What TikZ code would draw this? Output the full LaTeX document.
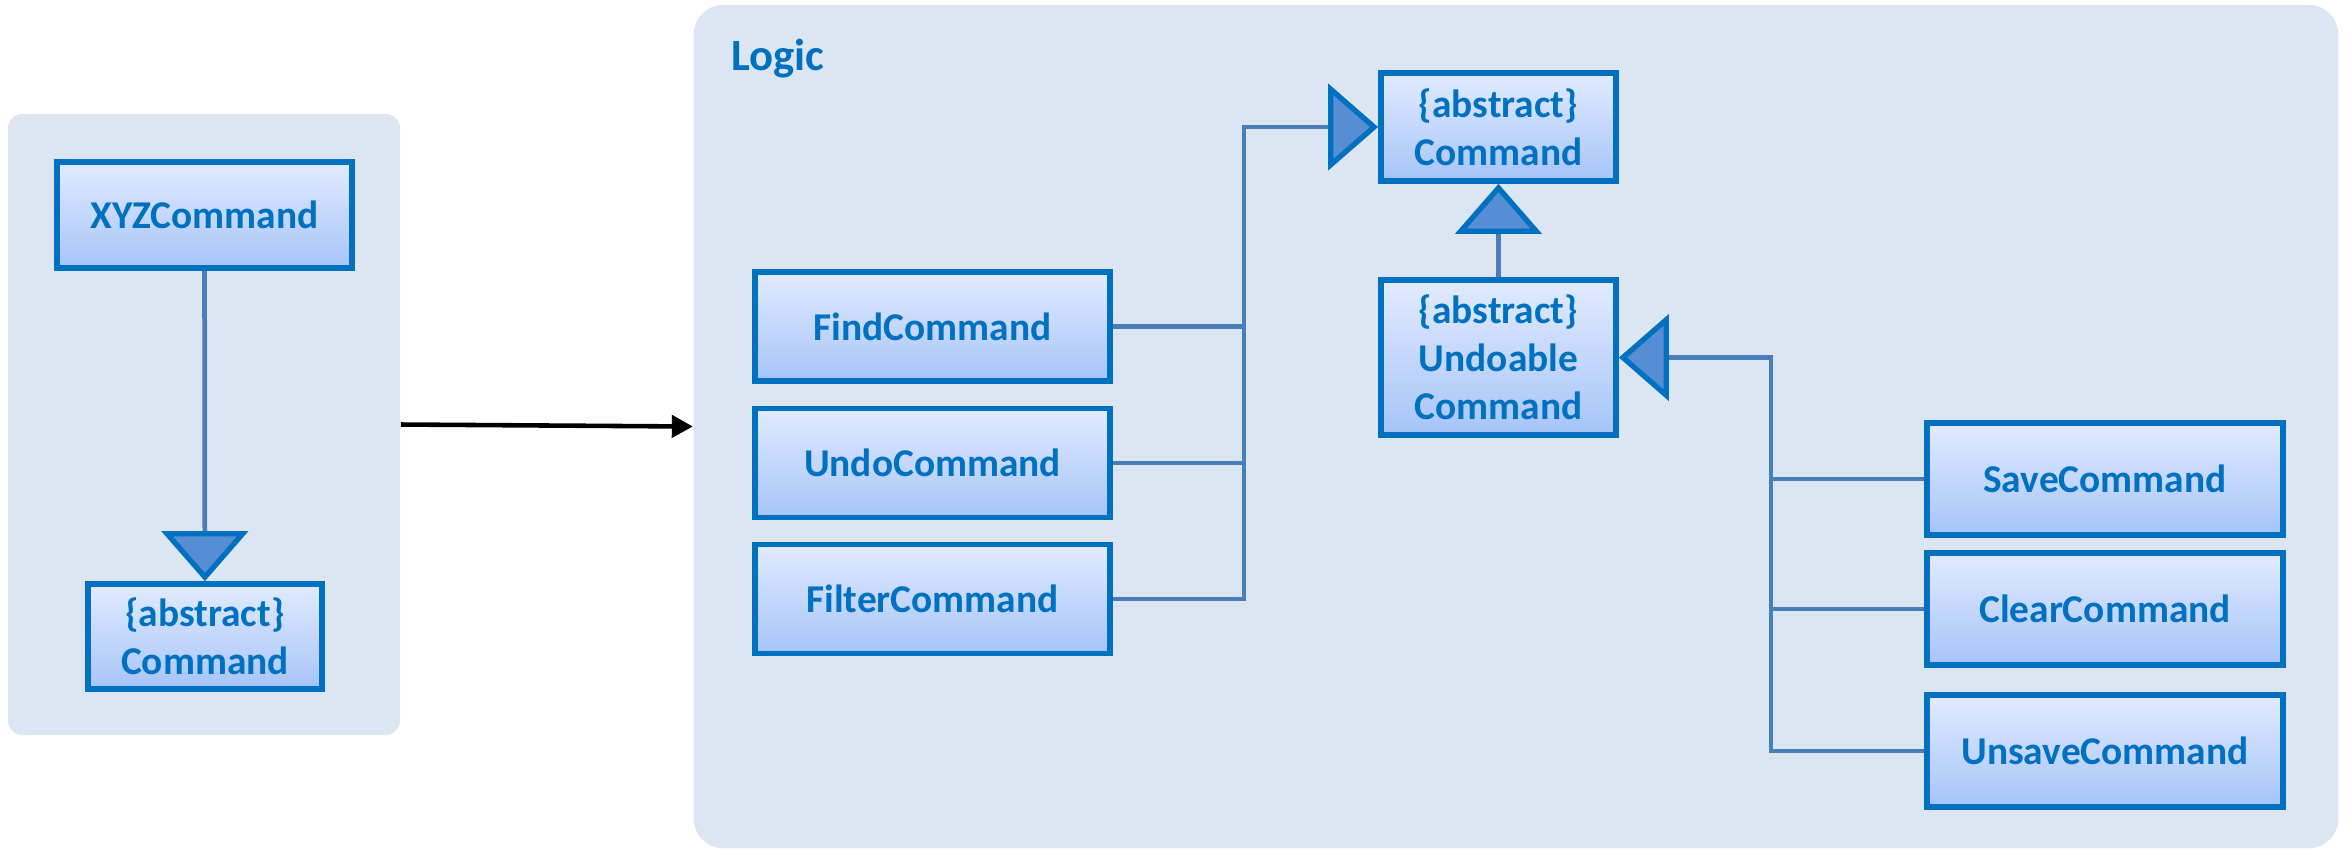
\documentclass[tikz,border=0pt]{standalone}
\usepackage{fontspec}
\setmainfont{Carlito}
\usetikzlibrary{arrows.meta}
\definecolor{panefill}{HTML}{DCE6F2}
\definecolor{boxblue}{HTML}{0070C0}
\definecolor{boxtop}{HTML}{E1EBFF}
\definecolor{boxbot}{HTML}{A6C4F8}
\definecolor{trifill}{HTML}{558ED5}
\definecolor{linkblue}{HTML}{4A7EBB}
\begin{document}
\begin{tikzpicture}[x=.01cm, y=-.01cm,
	pane/.style={fill=panefill, rounded corners=.15cm, inner sep=0pt},
	cls/.style={draw=boxblue, line width=1.6pt, top color=boxtop, bottom color=boxbot, text=boxblue, align=center, inner sep=0pt,
		font=\fontsize{11.2}{13.6}\selectfont\bfseries, minimum width=3.55cm, minimum height=1.09cm},
	link/.style={draw=linkblue, line width=1.35pt},
	gen/.style={link, -{Triangle[length=.5cm, width=.86cm, fill=trifill, color=boxblue, line width=1.5pt]}}]
	\useasboundingbox (0,0) rectangle (2350,850);
	\node[pane, minimum width=3.92cm, minimum height=6.21cm] (left) at (204,424.5) {};
	\node[pane, rounded corners=.3cm, minimum width=16.44cm, minimum height=8.43cm] (logic) at (1516,426.5) {};
	\node[anchor=base west, text=boxblue, font=\fontsize{12.7}{15}\selectfont\bfseries] (title) at (719,70) {Logic};
	%links
	\node[cls, minimum width=2.95cm, minimum height=1.06cm] (xyz)  at (204.5,215) {XYZCommand};
	\node[cls, minimum width=2.34cm, minimum height=1.05cm] (base) at (205,636.5) {\{abstract\}\\Command};
	%logic
	\node[cls] (find)   at (932.5,326.5) {FindCommand};
	\node[cls] (undo)   at (932.5,463)   {UndoCommand};
	\node[cls] (filter) at (932.5,599)   {FilterCommand};
	\node[cls, minimum width=2.35cm, minimum height=1.08cm] (cmd)      at (1498.5,127)   {\{abstract\}\\Command};
	\node[cls, minimum width=2.35cm, minimum height=1.55cm] (undoable) at (1498.5,357.5) {\{abstract\}\\Undoable\\Command};
	\node[cls, minimum width=3.56cm, minimum height=1.12cm] (save)   at (2105,479) {SaveCommand};
	\node[cls, minimum width=3.56cm, minimum height=1.12cm] (clear)  at (2105,609) {ClearCommand};
	\node[cls, minimum width=3.56cm, minimum height=1.12cm] (unsave) at (2105,751) {UnsaveCommand};
	\coordinate (jl) at (1244,127);
	\coordinate (jr) at (1771,357.5);
	\draw[gen]  (xyz) -- (base);
	\draw[gen]  (filter.east) -| (jl) -- (cmd);
	\draw[link] (find.east) -- (find.east -| jl);
	\draw[link] (undo.east) -- (undo.east -| jl);
	\draw[gen]  (undoable) -- (cmd);
	\draw[gen]  (unsave.west) -| (jr) -- (undoable);
	\draw[link] (save.west) -- (save.west -| jr);
	\draw[link] (clear.west) -- (clear.west -| jr);
	\draw[-{Triangle[length=.21cm, width=.22cm]}, line width=1.3pt] (left.east) -- (logic.west);
\end{tikzpicture}
\end{document}
